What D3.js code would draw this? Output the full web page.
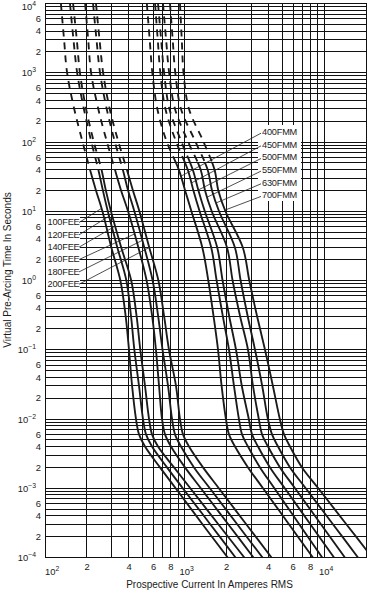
<!DOCTYPE html>
<html><head><meta charset="utf-8">
<script src="https://cdn.jsdelivr.net/npm/d3@7"></script>
<style>
body{margin:0;background:#fff}
svg{display:block}
text{font-family:"Liberation Sans",Arial,Helvetica,sans-serif;fill:#1a1a1a}
</style>
</head><body><svg id="c" width="370" height="591"></svg>
<script>
// ---- data ----
const times = [10000,3000,1000,300,100,40,20,10,3,1,0.3,0.1,0.03,0.01,0.006,0.004,0.002,0.001,0.0003,0.0001];

const fee100 = [130,137,144,162,186,210,232,258,299,347,379,400,421,449,472,521,667,864,1350,2040];
const fee120 = [151,160,170,190,215,241,260,282,330,383,414,437,472,504,530,585,749,972,1534,2321];
const fee140 = [159,169,178,197,224,254,273,297,352,415,454,482,521,557,585,646,841,1101,1753,2684];
const fee160 = [194,204,214,241,278,317,351,394,467,535,587,624,657,690,725,800,1008,1309,2064,3123];
const fee180 = [221,234,248,277,317,361,394,437,515,591,648,696,762,814,855,944,1170,1519,2394,3624];
const fee200 = [232,246,261,291,336,386,427,475,559,650,715,774,869,928,976,1077,1357,1762,2778,4204];

const fmm400 = [537,563,588,639,747,910,1010,1121,1342,1481,1617,1739,1845,1981,2084,2301,2852,3654,5622,8325];
const fmm450 = [615,643,671,730,872,1054,1158,1283,1554,1699,1885,2084,2263,2455,2584,2852,3477,4411,6663,9707];
const fmm500 = [646,680,714,780,952,1145,1258,1398,1716,1875,2095,2340,2576,2890,3047,3364,4101,5236,8004,11797];
const fmm550 = [701,738,776,855,1063,1305,1403,1567,2017,2212,2508,2852,3097,3409,3594,3968,4837,6196,9533,14120];
const fmm630 = [787,823,859,944,1201,1464,1575,1768,2298,2525,2843,3202,3606,3961,4240,4680,5705,7393,11623,17526];
const fmm700 = [928,956,984,1077,1371,1641,1747,1965,2618,2914,3319,3776,4302,4823,5168,5705,6956,9101,14500,22190];

const feeNames = ["100FEE","120FEE","140FEE","160FEE","180FEE","200FEE"];
const fmmNames = ["400FMM","450FMM","500FMM","550FMM","630FMM","700FMM"];
const feeLabelTimes = [11,8.5,6.1,4.7,3.8,3.0];
const fmmLabelTimes = [32,25.6,20.3,16,13.2,10.4];
const feeDashAbove = 40;   // curves dashed above this time (s)
const fmmDashAbove = 50;

const xTickValues = [100,200,400,600,800,1000,2000,4000,6000,8000,10000];
const xTickLabels = ["10^2","2","4","6","8","10^3","2","4","6","8","10^4"];
const yTickValues = [];
const yTickLabels = [];
for (let e = -4; e <= 4; e++) {
  yTickValues.push(Math.pow(10,e)); yTickLabels.push("10^" + e);
  if (e < 4) { for (const k of [2,4,6]) { yTickValues.push(k*Math.pow(10,e)); yTickLabels.push(String(k)); } }
}
const xTitle = "Prospective Current In Amperes RMS";
const yTitle = "Virtual Pre-Arcing Time In Seconds";

// ---- chart ----
const svg = d3.select("#c");
const L = 45, R = 366, T = 3.5, B = 557.5;
const x = d3.scaleLog().domain([100, 20000]).range([L, R]);
const y = d3.scaleLog().domain([1e-4, 1e4]).range([B, T]);

svg.append("rect").attr("width",370).attr("height",591).attr("fill","#fff");

const defs = svg.append("defs");
defs.append("clipPath").attr("id","plot").append("rect")
  .attr("x",L).attr("y",T).attr("width",R-L).attr("height",B-T);

// grid
const gx = [], gy = [];
for (let e = 2; e <= 4; e++) for (let k = 1; k <= 9; k++) { const v = k*Math.pow(10,e); if (v <= 20000) gx.push(v); }
for (let e = -4; e <= 4; e++) for (let k = 1; k <= 9; k++) { const v = k*Math.pow(10,e); if (v <= 1e4 + 1e-9) gy.push(v); }
const crisp = v => Math.round(v - 0.5) + 0.5;
const grid = svg.append("g").attr("stroke","#111").attr("stroke-width",1);
grid.selectAll("line.v").data(gx).join("line").attr("class","v")
  .attr("x1",d=>crisp(x(d))).attr("x2",d=>crisp(x(d))).attr("y1",T).attr("y2",B);
grid.selectAll("line.h").data(gy).join("line").attr("class","h")
  .attr("y1",d=>crisp(y(d))).attr("y2",d=>crisp(y(d))).attr("x1",L).attr("x2",R);

// series
const feeSeries = [fee100,fee120,fee140,fee160,fee180,fee200];
const fmmSeries = [fmm400,fmm450,fmm500,fmm550,fmm630,fmm700];
const line = d3.line().x(d=>x(d[0])).y(d=>y(d[1])).curve(d3.curveCatmullRom.alpha(0.5));

function addClip(id, splitT, upper) {
  const ys = y(splitT);
  defs.append("clipPath").attr("id",id).append("rect")
    .attr("x",L).attr("width",R-L)
    .attr("y", upper ? T : ys).attr("height", upper ? ys - T : B - ys);
}
addClip("feeUp", feeDashAbove, true); addClip("feeDn", feeDashAbove, false);
addClip("fmmUp", fmmDashAbove, true); addClip("fmmDn", fmmDashAbove, false);

const curves = svg.append("g").attr("clip-path","url(#plot)");
function drawFamily(series, up, dn) {
  series.forEach(s => {
    const pts = s.map((c,i)=>[c, times[i]]);
    const g = curves.append("g");
    g.append("path").attr("d", line(pts)).attr("fill","none").attr("stroke","#1a1a1a")
      .attr("stroke-width",1.85).attr("stroke-dasharray","7,6").attr("clip-path",`url(#${up})`);
    g.append("path").attr("d", line(pts)).attr("fill","none").attr("stroke","#1a1a1a")
      .attr("stroke-width",1.85).attr("clip-path",`url(#${dn})`);
  });
}
drawFamily(feeSeries, "feeUp", "feeDn");
drawFamily(fmmSeries, "fmmUp", "fmmDn");

// current at a given time, log-log interpolation of the series
function currentAt(s, t) {
  for (let i = 0; i < times.length-1; i++) {
    if (t <= times[i] && t >= times[i+1]) {
      const f = (Math.log(t)-Math.log(times[i]))/(Math.log(times[i+1])-Math.log(times[i]));
      return Math.exp(Math.log(s[i]) + f*(Math.log(s[i+1])-Math.log(s[i])));
    }
  }
  return s[0];
}

// labels
const labG = svg.append("g");
const boxG = labG.append("g");
const leadG = labG.append("g").attr("stroke","#222").attr("stroke-width",0.8);
const txtG = labG.append("g").attr("font-size","9.2px").attr("letter-spacing","-0.2px");

const feeY0 = 222, fmmY0 = 131.7;
feeNames.forEach((n,i) => {
  const yc = feeY0 + i*12.35;
  txtG.append("text").attr("x",47.5).attr("y",yc).attr("dy","0.35em").text(n);
  leadG.append("line").attr("x1",79).attr("y1",yc+0.5)
    .attr("x2",x(currentAt(feeSeries[i],feeLabelTimes[i]))).attr("y2",y(feeLabelTimes[i]));
});
fmmNames.forEach((n,i) => {
  const yc = fmmY0 + i*12.65;
  txtG.append("text").attr("x",262).attr("y",yc).attr("dy","0.35em").text(n);
  leadG.append("line").attr("x1",261).attr("y1",yc+1.5)
    .attr("x2",x(currentAt(fmmSeries[i],fmmLabelTimes[i]))).attr("y2",y(fmmLabelTimes[i]));
});
boxG.append("rect").attr("x",46).attr("y",215).attr("width",34).attr("height",75).attr("fill","#fff");
boxG.append("rect").attr("x",258).attr("y",125).attr("width",43).attr("height",76).attr("fill","#fff");

// frame
svg.append("rect").attr("x",crisp(L)).attr("y",crisp(T)).attr("width",crisp(R)-crisp(L)).attr("height",crisp(B)-crisp(T))
  .attr("fill","none").attr("stroke","#111").attr("stroke-width",1);

// tick labels
function powLabel(sel, lab) {
  const p = lab.split("^");
  sel.append("tspan").text(p[0]);
  sel.append("tspan").attr("font-size","6.8px").attr("dy","-4").text(p[1].replace("-","\u2212"));
}
const yt = svg.append("g").attr("font-size","9.4px");
yTickValues.forEach((v,i) => {
  const lab = yTickLabels[i];
  const yy = Math.max(y(v), 6);
  if (lab.includes("^")) {
    const t = yt.append("text").attr("x",36).attr("y",yy+3.5).attr("text-anchor","end");
    powLabel(t, lab);
  } else {
    yt.append("text").attr("x",41).attr("y",yy+3.3).attr("text-anchor","end").text(lab);
  }
});
const xt = svg.append("g").attr("font-size","9.4px");
xTickValues.forEach((v,i) => {
  const lab = xTickLabels[i];
  if (lab.includes("^")) {
    const t = xt.append("text").attr("x", x(v) + (v===100 ? 0 : -5)).attr("y",574.5);
    powLabel(t, lab);
  } else {
    xt.append("text").attr("x",x(v)).attr("y",570).attr("text-anchor","middle").text(lab);
  }
});

// axis titles
svg.append("text").attr("x",209.5).attr("y",587.5).attr("text-anchor","middle")
  .attr("font-size","10px").text(xTitle);
svg.append("text").attr("transform","translate(11,270) rotate(-90)").attr("text-anchor","middle")
  .attr("font-size","10px").text(yTitle);
</script>
</body></html>
